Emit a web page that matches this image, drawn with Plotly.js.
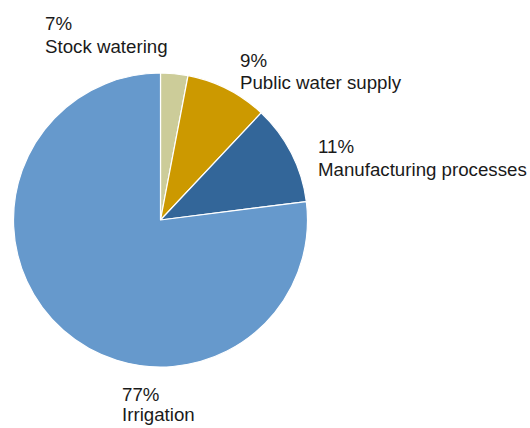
<!DOCTYPE html>
<html>
<head>
<meta charset="utf-8">
<script src="https://cdn.plot.ly/plotly-3.0.1.min.js"></script>
<style>html,body{margin:0;padding:0;background:#fff;}#chart{width:530px;height:428px;}</style>
</head>
<body>
<div id="chart"></div>
<script>
var categories = ["Stock watering", "Public water supply", "Manufacturing processes", "Irrigation"];
var values = [3, 9, 11, 77];
var percentLabels = ["7%", "9%", "11%", "77%"];
var colors = ["#CCCC99", "#CC9900", "#336699", "#6699CC"];

// label anchor positions in pixels (left, top of first line, top of second line)
var labelLeft = [43, 238, 316, 120];
var labelTop1 = [11.4, 48.4, 134.1, 382.4];
var labelTop2 = [34.1, 70.4, 157.4, 402.4];

var W = 530, H = 428;
var font = {family: "Liberation Sans, Arial, sans-serif", size: 18.7, color: "#1a1a1a"};
var annotations = [];
categories.forEach(function (c, i) {
  [[percentLabels[i], labelTop1[i]], [c, labelTop2[i]]].forEach(function (p) {
    annotations.push({
      xref: "paper", yref: "paper",
      x: labelLeft[i] / W, y: 1 - p[1] / H,
      xanchor: "left", yanchor: "top", align: "left",
      showarrow: false, text: p[0], font: font
    });
  });
});

var trace = {
  type: "pie",
  labels: categories,
  values: values,
  sort: false,
  direction: "clockwise",
  rotation: 0,
  textinfo: "none",
  hoverinfo: "label+percent",
  marker: {colors: colors, line: {color: "#ffffff", width: 1.2}},
  domain: {x: [13.5/530, 307.5/530], y: [61/428, 355/428]},
  showlegend: false
};

var layout = {
  width: W, height: H,
  margin: {l: 0, r: 0, t: 0, b: 0},
  paper_bgcolor: "#ffffff",
  plot_bgcolor: "#ffffff",
  showlegend: false,
  annotations: annotations
};

Plotly.newPlot("chart", [trace], layout, {displayModeBar: false, staticPlot: true});
</script>
</body>
</html>
